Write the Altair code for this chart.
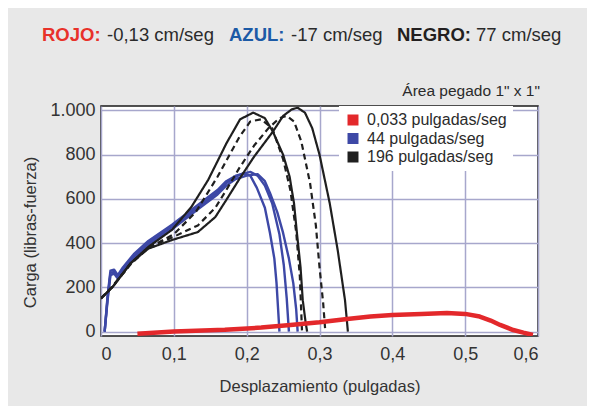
import altair as alt
import pandas as pd

# ---------------- data ----------------
speeds = ["0,033 pulgadas/seg", "44 pulgadas/seg", "196 pulgadas/seg"]

red_x = [0.05, 0.10, 0.17, 0.22, 0.26, 0.30, 0.338, 0.37, 0.40, 0.44, 0.475, 0.50, 0.52, 0.535, 0.548, 0.566, 0.58, 0.593]
red_y = [-10, 0, 8, 18, 30, 42, 57, 68, 75, 80, 84, 80, 68, 50, 30, 7, -5, -15]

blue1_x = [0.005, 0.009, 0.013, 0.018, 0.023, 0.03, 0.045, 0.065, 0.0975, 0.133, 0.16, 0.172, 0.185, 0.195, 0.205, 0.214, 0.225, 0.232, 0.238, 0.241, 0.243, 0.245]
blue1_y = [0, 150, 265, 270, 247, 280, 340, 400, 473, 563, 630, 672, 700, 715, 705, 650, 560, 446, 330, 219, 110, 0]
blue2_x = [0.005, 0.009, 0.013, 0.018, 0.023, 0.03, 0.045, 0.065, 0.0975, 0.133, 0.16, 0.172, 0.185, 0.205, 0.215, 0.225, 0.235, 0.245, 0.251, 0.255, 0.258]
blue2_y = [0, 160, 275, 280, 255, 290, 350, 410, 483, 573, 640, 680, 705, 722, 705, 660, 580, 440, 300, 150, 0]
blue3_x = [0.005, 0.009, 0.013, 0.018, 0.023, 0.03, 0.045, 0.065, 0.0975, 0.133, 0.16, 0.172, 0.185, 0.20, 0.215, 0.225, 0.232, 0.242, 0.25, 0.258, 0.264, 0.268, 0.27]
blue3_y = [0, 140, 255, 262, 240, 270, 330, 392, 463, 553, 620, 660, 690, 705, 712, 680, 627, 540, 446, 330, 219, 100, 0]

blackA_x = [0.0, 0.016, 0.041, 0.065, 0.0975, 0.124, 0.147, 0.163, 0.172, 0.191, 0.209, 0.225, 0.236, 0.25, 0.259, 0.265, 0.269, 0.274, 0.277, 0.281, 0.283]
blackA_y = [150, 202, 310, 383, 460, 563, 685, 790, 850, 960, 990, 965, 904, 800, 700, 580, 446, 290, 142, 40, 0]
blackB_x = [0.0, 0.016, 0.041, 0.065, 0.0975, 0.133, 0.157, 0.172, 0.19, 0.21, 0.236, 0.25, 0.262, 0.27, 0.28, 0.29, 0.30, 0.314, 0.325, 0.335, 0.339]
blackB_y = [150, 202, 310, 375, 414, 450, 518, 595, 690, 790, 904, 975, 1005, 1012, 990, 920, 800, 581, 368, 142, 0]
blackC_x = [0.0, 0.016, 0.041, 0.065, 0.10, 0.13, 0.16, 0.19, 0.205, 0.22, 0.235, 0.25, 0.26, 0.268, 0.273, 0.276]
blackC_y = [150, 205, 305, 378, 440, 540, 700, 880, 950, 960, 920, 780, 640, 450, 250, 0]
blackD_x = [0.0, 0.016, 0.041, 0.065, 0.0975, 0.133, 0.157, 0.172, 0.19, 0.21, 0.23, 0.245, 0.255, 0.265, 0.275, 0.287, 0.295, 0.30, 0.305, 0.308]
blackD_y = [150, 205, 310, 380, 425, 480, 560, 640, 740, 840, 920, 965, 975, 950, 860, 672, 480, 292, 130, 0]

runs = [
    ("b1", speeds[1], "solid", blue1_x, blue1_y),
    ("b2", speeds[1], "solid", blue2_x, blue2_y),
    ("b3", speeds[1], "solid", blue3_x, blue3_y),
    ("kA", speeds[2], "solid", blackA_x, blackA_y),
    ("kB", speeds[2], "solid", blackB_x, blackB_y),
    ("kC", speeds[2], "dashed", blackC_x, blackC_y),
    ("kD", speeds[2], "dashed", blackD_x, blackD_y),
    ("r1", speeds[0], "solid", red_x, red_y),
]

rows = []
for run, sp, st, xs, ys in runs:
    for i, (xv, yv) in enumerate(zip(xs, ys)):
        rows.append({"run": run, "speed": sp, "style": st, "x": xv, "y": yv, "i": i})
df = pd.DataFrame(rows)

x_ticks = [0, 0.1, 0.2, 0.3, 0.4, 0.5, 0.6]
y_ticks = [0, 200, 400, 600, 800, 1000]

header_texts = ["ROJO:", "-0,13 cm/seg", "AZUL:", "-17 cm/seg", "NEGRO:", "77 cm/seg"]
header_colors = ["#e8312a", "#2b2b2b", "#1c5aa6", "#2b2b2b", "#231f20", "#2b2b2b"]
header_weights = ["bold", "normal", "bold", "normal", "bold", "normal"]

series_colors = ["#e3282b", "#3d48a6", "#1f1f1f"]

FONT = "Liberation Sans"

# ---------------- chart ----------------
xenc = alt.X("x:Q", scale=alt.Scale(domain=[0, 0.6], nice=False, zero=False),
             axis=alt.Axis(values=x_ticks, title="Desplazamiento (pulgadas)",
                           labelExpr="replace(format(datum.value, '.1~f'), '.', ',')",
                           labelPadding=9, titleY=50, titleBaseline="middle"))
yenc = alt.Y("y:Q", scale=alt.Scale(domain=[-20, 1020], nice=False, zero=False),
             axis=alt.Axis(values=y_ticks, title="Carga (libras-fuerza)",
                           labelExpr="datum.value == 1000 ? '1.000' : datum.label",
                           labelPadding=6, titleX=-71, titleY=126, titleAngle=270,
                           titleAlign="center", titleBaseline="middle"))

legend = alt.Legend(title=None, orient="none", legendX=238, legendY=0,
                    fillColor="white", padding=6, symbolType="square",
                    symbolSize=30, symbolStrokeWidth=5.5, symbolFillColor="transparent",
                    symbolDash=[1, 0], clipHeight=16,
                    labelFontSize=16, labelFont=FONT, labelColor="#2b2b2b",
                    labelOffset=6, rowPadding=2.5)
cenc = alt.Color("speed:N", scale=alt.Scale(domain=speeds, range=series_colors), legend=legend)

lines_blue = alt.Chart(df).transform_filter(alt.datum.speed == speeds[1]).mark_line(
    clip=True, strokeJoin="round", strokeWidth=2.4).encode(
    x=xenc, y=yenc, color=cenc, detail="run:N", order="i:Q")

lines_black = alt.Chart(df).transform_filter(alt.datum.speed == speeds[2]).mark_line(
    clip=True, strokeJoin="round", strokeWidth=2.2).encode(
    x=xenc, y=yenc, color=cenc,
    strokeDash=alt.StrokeDash("style:N", scale=alt.Scale(domain=["solid", "dashed"], range=[[1, 0], [6, 4]]), legend=None),
    detail="run:N", order="i:Q")

lines_red = alt.Chart(df).transform_filter(alt.datum.speed == speeds[0]).mark_line(
    clip=True, strokeJoin="round", strokeWidth=4.5).encode(
    x=xenc, y=yenc, color=cenc, detail="run:N", order="i:Q")

one = pd.DataFrame({"k": [0]})
header_x = [-59, 6, 128, 190, 296, 375]
headers = []
for t, c, w, hx in zip(header_texts, header_colors, header_weights, header_x):
    headers.append(
        alt.Chart(one).mark_text(text=t, color=c, fontWeight=w, font=FONT, fontSize=18.5,
                                 align="left", baseline="middle")
        .encode(x=alt.value(hx), y=alt.value(-71))
    )

area_note = alt.Chart(one).mark_text(text='Área pegado 1" x 1"', color="#2b2b2b", font=FONT,
                                     fontSize=15.5, align="right", baseline="middle").encode(
    x=alt.value(439), y=alt.value(-15))

chart = alt.layer(lines_blue, lines_black, lines_red, *headers, area_note).properties(
    width=437, height=230,
    autosize=alt.AutoSizeParams(type="none"),
    padding={"left": 93, "top": 98, "right": 49, "bottom": 70},
    background="#e8e8e8",
).configure_view(
    fill="white", stroke="#1a1a1a", strokeWidth=1.5
).configure_axis(
    grid=True, gridColor="#a7a7cc", gridWidth=1.5, gridOpacity=1,
    domain=False, ticks=False,
    labelFont=FONT, labelFontSize=18, labelColor="#333333",
    titleFont=FONT, titleFontSize=16.5, titleFontWeight="normal", titleColor="#333333",
)

chart.save("out.html", embed_options={"renderer": "svg", "actions": False})
